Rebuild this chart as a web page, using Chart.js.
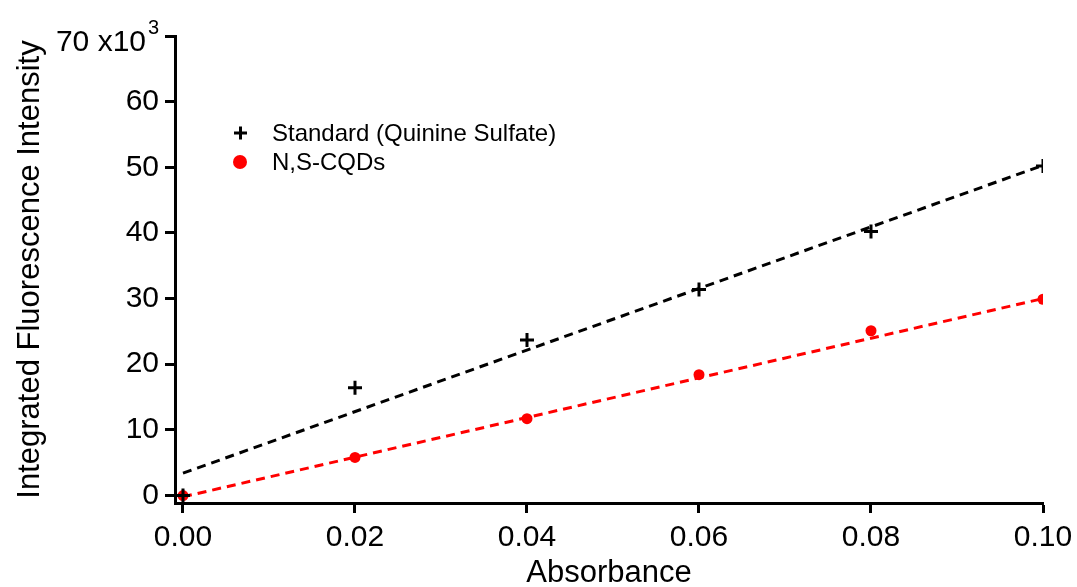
<!DOCTYPE html>
<html>
<head>
<meta charset="utf-8">
<script src="https://cdn.jsdelivr.net/npm/chart.js@4/dist/chart.umd.min.js"></script>
<style>
  html, body { margin: 0; padding: 0; background: #fff; overflow: hidden; }
  #wrap { width: 1077px; height: 587px; position: relative; }
</style>
</head>
<body>
<div id="wrap"><canvas id="fluoChart"></canvas></div>
<script>
// measured points
var absorbance = [0, 0.02, 0.04, 0.06, 0.08, 0.10];
var standardQS = [0, 16.4, 23.7, 31.4, 40.2, 50.2];
var nsCQDs = [0, 5.8, 11.7, 18.4, 25.1, 29.9];

// fitted lines, read at both ends
var fitX = [0, 0.10];
var standardFit = [3.4, 50.3];
var cqdFit = [-0.2, 30.0];

var xTicks = [0, 0.02, 0.04, 0.06, 0.08, 0.10];
var xTickLabels = ['0.00', '0.02', '0.04', '0.06', '0.08', '0.10'];
var yTicks = [0, 10, 20, 30, 40, 50, 60, 70];
var yTickLabels = ['0', '10', '20', '30', '40', '50', '60', '70 x10'];

var fontFamily = '"Liberation Sans", Arial, Helvetica, sans-serif';

function toPoints(xs, ys) {
    return xs.map(function (x, i) { return { x: x, y: ys[i] }; });
}

// legend drawn inside the plot, top-left, plus the "70 x10^3" label
var innerLegend = {
    id: 'innerLegend',
    afterDraw: function (chart) {
        var ctx = chart.ctx;
        ctx.save();
        ctx.font = '24px ' + fontFamily;
        ctx.fillStyle = '#000';
        ctx.textBaseline = 'middle';
        ctx.textAlign = 'left';

        // cross
        ctx.strokeStyle = '#000';
        ctx.lineWidth = 3;
        ctx.beginPath();
        ctx.moveTo(234, 133); ctx.lineTo(247, 133);
        ctx.moveTo(240.5, 126.5); ctx.lineTo(240.5, 139.5);
        ctx.stroke();
        ctx.fillText('Standard (Quinine Sulfate)', 272, 134);

        // dot
        ctx.fillStyle = '#ff0000';
        ctx.beginPath();
        ctx.arc(240, 162, 7, 0, Math.PI * 2);
        ctx.fill();
        ctx.fillStyle = '#000';
        ctx.fillText('N,S-CQDs', 272, 163);

        // top y label with its exponent
        var y = chart.scales.y;
        var top = y.getPixelForValue(70);
        ctx.font = '30px ' + fontFamily;
        ctx.textAlign = 'right';
        ctx.fillText(yTickLabels[yTickLabels.length - 1], 146, top + 7);
        ctx.font = '20px ' + fontFamily;
        ctx.textAlign = 'left';
        ctx.fillText('3', 148, top - 8);
        ctx.restore();
    }
};

var ctx = document.getElementById('fluoChart');

new Chart(ctx, {
    type: 'scatter',
    data: {
        datasets: [
            {
                label: 'Standard (Quinine Sulfate)',
                data: toPoints(absorbance, standardQS),
                pointStyle: 'cross',
                pointRadius: 7,
                borderColor: '#000',
                backgroundColor: '#000',
                pointBorderWidth: 3,
                showLine: false
            },
            {
                label: 'N,S-CQDs',
                data: toPoints(absorbance, nsCQDs),
                pointStyle: 'circle',
                pointRadius: 5.5,
                borderColor: '#ff0000',
                backgroundColor: '#ff0000',
                pointBorderWidth: 0,
                showLine: false
            },
            {
                label: 'Standard fit',
                data: toPoints(fitX, standardFit),
                showLine: true,
                pointRadius: 0,
                borderColor: '#000',
                borderWidth: 3,
                borderDash: [9, 6]
            },
            {
                label: 'CQD fit',
                data: toPoints(fitX, cqdFit),
                showLine: true,
                pointRadius: 0,
                borderColor: '#ff0000',
                borderWidth: 3,
                borderDash: [9, 6]
            }
        ]
    },
    options: {
        responsive: true,
        maintainAspectRatio: false,
        animation: false,
        layout: { padding: 0 },
        plugins: {
            legend: { display: false },
            tooltip: { enabled: false }
        },
        scales: {
            x: {
                type: 'linear',
                min: -0.00093,
                max: 0.10,
                afterBuildTicks: function (scale) {
                    scale.ticks = xTicks.map(function (v) { return { value: v }; });
                },
                afterFit: function (scale) {
                    scale.height = 84;
                    scale.paddingRight = 34;
                },
                ticks: {
                    color: '#000',
                    font: { family: fontFamily, size: 30 },
                    padding: 7,
                    maxRotation: 0,
                    callback: function (value, index) { return xTickLabels[index]; }
                },
                grid: {
                    drawOnChartArea: false,
                    drawTicks: true,
                    tickLength: 10,
                    tickWidth: 3,
                    tickColor: '#000'
                },
                border: { display: true, color: '#000', width: 3 },
                title: {
                    display: true,
                    text: 'Absorbance',
                    color: '#000',
                    font: { family: fontFamily, size: 31, lineHeight: 1 },
                    padding: { top: 0, bottom: -2 }
                }
            },
            y: {
                type: 'linear',
                min: -1.14,
                max: 70,
                afterBuildTicks: function (scale) {
                    scale.ticks = yTicks.map(function (v) { return { value: v }; });
                },
                afterFit: function (scale) {
                    scale.width = 175;
                    scale.paddingTop = 36;
                },
                ticks: {
                    color: '#000',
                    font: { family: fontFamily, size: 30 },
                    padding: 6,
                    callback: function (value) {
                        var i = yTicks.indexOf(value);
                        // the top label is drawn by the plugin with its exponent
                        return i === yTicks.length - 1 ? '' : yTickLabels[i];
                    }
                },
                grid: {
                    drawOnChartArea: false,
                    drawTicks: true,
                    tickLength: 10,
                    tickWidth: 3,
                    tickColor: '#000'
                },
                border: { display: true, color: '#000', width: 3 },
                title: {
                    display: true,
                    text: 'Integrated Fluorescence Intensity',
                    color: '#000',
                    font: { family: fontFamily, size: 31 },
                    padding: { top: 12, bottom: 0 }
                }
            }
        }
    },
    plugins: [innerLegend]
});
</script>
</body>
</html>
